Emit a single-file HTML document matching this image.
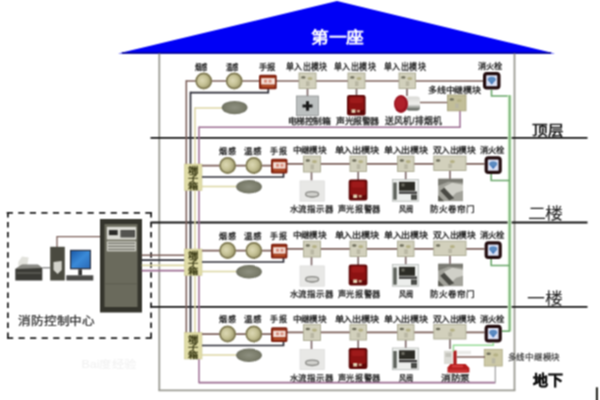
<!DOCTYPE html>
<html lang="zh-CN"><head><meta charset="utf-8"><title>消防报警系统图</title>
<style>html,body{margin:0;padding:0;background:#fff;}body{width:600px;height:400px;overflow:hidden;font-family:"Liberation Sans",sans-serif;}svg{display:block;}</style>
</head><body>
<svg width="600" height="400" viewBox="0 0 600 400">
<defs>
<radialGradient id="gdet" cx="0.4" cy="0.45" r="0.62">
<stop offset="0" stop-color="#dcd8b4"/><stop offset="0.5" stop-color="#c6c296"/><stop offset="1" stop-color="#9a9668"/>
</radialGradient>
<radialGradient id="gov" cx="0.5" cy="0.5" r="0.55">
<stop offset="0" stop-color="#8e9080"/><stop offset="0.7" stop-color="#7a7c6a"/><stop offset="1" stop-color="#66685a"/>
</radialGradient>
<linearGradient id="gmon" x1="0" y1="0" x2="1" y2="1"><stop offset="0" stop-color="#1a5aa8"/><stop offset="0.5" stop-color="#3a8ad8"/><stop offset="1" stop-color="#2a6ab8"/></linearGradient>
<linearGradient id="gfan" x1="0" y1="0" x2="0" y2="1"><stop offset="0" stop-color="#d8d8d4"/><stop offset="0.55" stop-color="#f0f0ee"/><stop offset="1" stop-color="#4a5048"/></linearGradient>
<filter id="soft" filterUnits="userSpaceOnUse" x="0" y="0" width="600" height="400" color-interpolation-filters="sRGB"><feConvolveMatrix order="3" kernelMatrix="1 2 1 2 4 2 1 2 1" divisor="16" edgeMode="duplicate" preserveAlpha="false"/></filter>
</defs>
<g filter="url(#soft)">
<rect width="600" height="400" fill="#ffffff"/>
<polygon points="118,53.6 337,1 555,53.6" fill="#0000f6"/>
<line x1="122" y1="53.1" x2="551" y2="53.1" stroke="#00008c" stroke-width="1.5" />
<text x="311.3" y="43.22" font-family="Liberation Serif, serif" font-size="16.40" font-weight="bold" fill="#ffffff" textLength="52.20" lengthAdjust="spacingAndGlyphs">第一座</text>
<line x1="159.3" y1="53.5" x2="159.3" y2="390.5" stroke="#9c9c94" stroke-width="1.8" />
<line x1="514.5" y1="53.5" x2="514.5" y2="390.5" stroke="#9c9c94" stroke-width="1.8" />
<line x1="158.4" y1="390.4" x2="515.4" y2="390.4" stroke="#9c9c94" stroke-width="1.8" />
<line x1="150.5" y1="137.8" x2="587.5" y2="137.8" stroke="#141414" stroke-width="1.8" />
<line x1="150.5" y1="222.5" x2="587.5" y2="222.5" stroke="#141414" stroke-width="1.8" />
<line x1="150.5" y1="306.8" x2="587.5" y2="306.8" stroke="#141414" stroke-width="1.8" />
<text x="532.4" y="135.01" font-family="Liberation Serif, serif" font-size="13.22" font-weight="bold" fill="#1a1a1a" textLength="30.60" lengthAdjust="spacingAndGlyphs">顶层</text>
<text x="527.5" y="218.67" font-family="Liberation Serif, serif" font-size="15.46" font-weight="normal" fill="#1a1a1a" textLength="35.00" lengthAdjust="spacingAndGlyphs">二楼</text>
<text x="527" y="304.03" font-family="Liberation Serif, serif" font-size="16.17" font-weight="normal" fill="#1a1a1a" textLength="35.50" lengthAdjust="spacingAndGlyphs">一楼</text>
<text x="532.5" y="384.98" font-family="Liberation Sans, sans-serif" font-size="13.69" font-weight="bold" fill="#111" stroke="#111" stroke-width="0.5" textLength="30.50" lengthAdjust="spacingAndGlyphs">地下</text>
<line x1="596.9" y1="387.3" x2="596.9" y2="400.5" stroke="#1a1a14" stroke-width="2.0" />
<line x1="6.7" y1="212.9" x2="152" y2="212.9" stroke="#1e1e1e" stroke-width="1.8" stroke-dasharray="6.2 5.35"/>
<line x1="7.0" y1="338.1" x2="151.9" y2="338.1" stroke="#1e1e1e" stroke-width="1.8" stroke-dasharray="6.2 5.35"/>
<line x1="7.9" y1="212" x2="7.9" y2="339" stroke="#1e1e1e" stroke-width="1.8" stroke-dasharray="5.5 4.55"/>
<line x1="151.1" y1="212" x2="151.1" y2="339" stroke="#1e1e1e" stroke-width="1.8" stroke-dasharray="5.5 4.55"/>
<text x="18" y="324.59" font-family="Liberation Sans, sans-serif" font-size="11.80" font-weight="normal" fill="#2a2a2a" stroke="#2a2a2a" stroke-width="0.25" textLength="77.00" lengthAdjust="spacingAndGlyphs">消防控制中心</text>
<polyline points="57,247 57,236.6 100.5,236.6" fill="none" stroke="#7c605a" stroke-width="1.3"/>
<rect x="100" y="219" width="42.00" height="93.50" rx="0" fill="#34342c" stroke="none" stroke-width="0" />
<rect x="104.5" y="224" width="33.00" height="83.00" rx="0" fill="#6a6a5c" stroke="none" stroke-width="0" />
<rect x="106.8" y="226.8" width="29.50" height="12.80" rx="0" fill="#dcdcd4" stroke="none" stroke-width="0" />
<rect x="108.7" y="229.8" width="9.30" height="5.70" rx="0" fill="#2a2a26" stroke="#e8e8e0" stroke-width="0.6" />
<rect x="120.5" y="230" width="14.50" height="7.50" rx="0" fill="#4a4a46" stroke="none" stroke-width="0" />
<line x1="121" y1="230.5" x2="121" y2="237" stroke="#6a6a64" stroke-width="0.6" />
<line x1="123" y1="230.5" x2="123" y2="237" stroke="#6a6a64" stroke-width="0.6" />
<line x1="125" y1="230.5" x2="125" y2="237" stroke="#6a6a64" stroke-width="0.6" />
<line x1="127" y1="230.5" x2="127" y2="237" stroke="#6a6a64" stroke-width="0.6" />
<line x1="129" y1="230.5" x2="129" y2="237" stroke="#6a6a64" stroke-width="0.6" />
<line x1="131" y1="230.5" x2="131" y2="237" stroke="#6a6a64" stroke-width="0.6" />
<line x1="133" y1="230.5" x2="133" y2="237" stroke="#6a6a64" stroke-width="0.6" />
<rect x="106.8" y="241.2" width="29.50" height="10.10" rx="0" fill="#cfcfc6" stroke="none" stroke-width="0" />
<line x1="108" y1="243.2" x2="135" y2="243.2" stroke="#55554c" stroke-width="1.0" />
<line x1="108" y1="246.2" x2="135" y2="246.2" stroke="#55554c" stroke-width="1.0" />
<line x1="108" y1="249.2" x2="135" y2="249.2" stroke="#55554c" stroke-width="1.0" />
<line x1="104.5" y1="283.8" x2="137.5" y2="283.8" stroke="#5a5a4e" stroke-width="0.8" />
<rect x="50.2" y="246.8" width="14.60" height="33.70" rx="0" fill="#4a4a40" stroke="none" stroke-width="0" />
<path d="M53.5 262 L61.7 261 L61.7 270 L57.6 274 L53.5 270 Z" fill="#d4d4cc"/>
<rect x="70" y="249.8" width="21.00" height="19.50" rx="0" fill="#2a3040" stroke="none" stroke-width="0" />
<rect x="71.2" y="251" width="18.6" height="17" fill="url(#gmon)"/>
<rect x="78.3" y="269.3" width="3.70" height="6.00" rx="0" fill="#333" stroke="none" stroke-width="0" />
<rect x="66.3" y="275.3" width="27.00" height="5.20" rx="0" fill="#4a4a48" stroke="none" stroke-width="0" />
<path d="M18.3 262 L22 256.5 L28.7 257.5 L27 266 L18.3 266 Z" fill="#e2e2dc"/>
<path d="M15.3 269 L22 264.7 L38 264.7 L42.3 268 L42.3 280.5 L15.3 280.5 Z" fill="#3a3a35"/>
<path d="M15.3 269 L22 264.7 L38 264.7 L42.3 268 Z" fill="#8a8a84"/>
<rect x="17" y="272" width="24.00" height="2.00" rx="0" fill="#55554e" stroke="none" stroke-width="0" />
<line x1="42.3" y1="267.8" x2="50.2" y2="267.8" stroke="#777" stroke-width="1.2" />
<line x1="141.7" y1="255.2" x2="186" y2="255.2" stroke="#7c605a" stroke-width="1.6" />
<line x1="141.7" y1="260.1" x2="186" y2="260.1" stroke="#2c2c36" stroke-width="1.6" />
<line x1="141.7" y1="265.4" x2="186" y2="265.4" stroke="#dcd6a4" stroke-width="1.7" />
<line x1="141.7" y1="270.6" x2="186" y2="270.6" stroke="#9c6e92" stroke-width="1.7" />
<line x1="186.3" y1="80.2" x2="186.3" y2="333" stroke="#7c605a" stroke-width="1.6" />
<line x1="190.5" y1="91.7" x2="190.5" y2="333" stroke="#2c2c36" stroke-width="1.7" />
<line x1="195" y1="107.3" x2="195" y2="333" stroke="#dcd6a4" stroke-width="1.5" />
<line x1="199" y1="126.5" x2="199" y2="383.2" stroke="#9c6e92" stroke-width="1.5" />
<line x1="186.3" y1="81" x2="483.5" y2="81" stroke="#7c605a" stroke-width="1.6" />
<polyline points="190.5,92.6 268.3,92.6 268.3,88" fill="none" stroke="#2c2c36" stroke-width="1.7"/>
<line x1="195" y1="108" x2="222" y2="108" stroke="#dcd6a4" stroke-width="1.5" />
<polyline points="199,127.3 460,127.3 460,110" fill="none" stroke="#9c6e92" stroke-width="1.5"/>
<line x1="420" y1="102.5" x2="448" y2="102.5" stroke="#7c605a" stroke-width="1.4" />
<line x1="307.5" y1="88" x2="307.5" y2="96" stroke="#7a6464" stroke-width="1.6" />
<line x1="356.5" y1="88" x2="356.5" y2="96" stroke="#7a6464" stroke-width="1.6" />
<line x1="407" y1="88" x2="407" y2="96" stroke="#7a6464" stroke-width="1.6" />
<circle cx="203.7" cy="81" r="8.4" fill="#aaa680"/>
<circle cx="203.7" cy="81" r="7.5" fill="url(#gdet)" stroke="#7c7650" stroke-width="1.5"/>
<circle cx="234.2" cy="81" r="8.4" fill="#aaa680"/>
<circle cx="234.2" cy="81" r="7.5" fill="url(#gdet)" stroke="#7c7650" stroke-width="1.5"/>
<rect x="259" y="74.7" width="17.70" height="14.50" rx="1.5" fill="#7c2010" stroke="none" stroke-width="0" />
<rect x="260.5" y="76.2" width="14.70" height="11.50" rx="1" fill="#9a3418" stroke="none" stroke-width="0" />
<rect x="261.2" y="78.10000000000001" width="13.70" height="6.40" rx="0" fill="#f6e2da" stroke="none" stroke-width="0" />
<rect x="264" y="79.7" width="3.00" height="3.00" rx="0" fill="#d89080" stroke="none" stroke-width="0" />
<rect x="268.5" y="79.7" width="3.00" height="3.00" rx="0" fill="#d89080" stroke="none" stroke-width="0" />
<rect x="262" y="85.5" width="12.20" height="1.70" rx="0" fill="#b4502a" stroke="none" stroke-width="0" />
<ellipse cx="234.6" cy="107.6" rx="12.9" ry="6.7" fill="url(#gov)"/>
<rect x="299" y="73" width="17.00" height="15.50" rx="0" fill="#d2d0bc" stroke="#a9a890" stroke-width="0.9" />
<ellipse cx="303.3" cy="77.4" rx="2.2" ry="1.2" fill="#6a6a58"/>
<ellipse cx="310.0" cy="78.5" rx="2.5" ry="1.6" fill="#b4b084"/>
<rect x="306.0" y="81.25" width="3.50" height="4.75" rx="0" fill="#b8b6a2" stroke="none" stroke-width="0" />
<rect x="348" y="73" width="17.00" height="15.50" rx="0" fill="#d2d0bc" stroke="#a9a890" stroke-width="0.9" />
<ellipse cx="352.3" cy="77.4" rx="2.2" ry="1.2" fill="#6a6a58"/>
<ellipse cx="359.0" cy="78.5" rx="2.5" ry="1.6" fill="#b4b084"/>
<rect x="355.0" y="81.25" width="3.50" height="4.75" rx="0" fill="#b8b6a2" stroke="none" stroke-width="0" />
<rect x="399" y="73" width="16.50" height="15.50" rx="0" fill="#d2d0bc" stroke="#a9a890" stroke-width="0.9" />
<ellipse cx="403.3" cy="77.4" rx="2.2" ry="1.2" fill="#6a6a58"/>
<ellipse cx="409.75" cy="78.5" rx="2.5" ry="1.6" fill="#b4b084"/>
<rect x="405.75" y="81.25" width="3.50" height="4.75" rx="0" fill="#b8b6a2" stroke="none" stroke-width="0" />
<rect x="484.6" y="73.6" width="14.30" height="14.30" rx="2.2" fill="#dce2f6" stroke="#220c0e" stroke-width="3.2" />
<path d="M487.75 79.75 L495.75 79.75 L491.75 84.75 Z" fill="#4a7ab8"/>
<ellipse cx="491.75" cy="79.25" rx="4" ry="2.5" fill="#5a8ac0"/>
<rect x="447.5" y="95" width="18.50" height="15.80" rx="0" fill="#c2be98" stroke="#a8a47e" stroke-width="0.9" />
<ellipse cx="451.8" cy="99.4" rx="2.2" ry="1.2" fill="#6a6a58"/>
<ellipse cx="459.25" cy="100.5" rx="2.5" ry="1.6" fill="#b4b084"/>
<rect x="455.25" y="103.4" width="3.50" height="4.90" rx="0" fill="#b8b6a2" stroke="none" stroke-width="0" />
<rect x="296.5" y="96" width="22.00" height="19.40" rx="0" fill="#bcc0c0" stroke="#8a8e8e" stroke-width="0.8" />
<rect x="302.5" y="104.5" width="10.00" height="3.00" rx="0" fill="#1a1a1a" stroke="none" stroke-width="0" />
<rect x="306.0" y="101.2" width="3.00" height="9.50" rx="0" fill="#1a1a1a" stroke="none" stroke-width="0" />
<rect x="347" y="95" width="18.60" height="20.40" rx="2.2" fill="#5e0808" stroke="none" stroke-width="0" />
<rect x="348.6" y="96.4" width="15.40" height="14.00" rx="2" fill="#8c1212" stroke="none" stroke-width="0" />
<rect x="350" y="97.5" width="12.60" height="5.50" rx="1.5" fill="#9e1a1a" stroke="none" stroke-width="0" />
<rect x="351.5" y="109.4" width="4.00" height="3.50" rx="0" fill="#e4d4b4" stroke="none" stroke-width="0" />
<rect x="357" y="109.9" width="3.00" height="2.50" rx="0" fill="#c89c80" stroke="none" stroke-width="0" />
<rect x="406" y="96.5" width="14.00" height="14.00" rx="3" fill="url(#gfan)" stroke="none" stroke-width="0" />
<ellipse cx="401" cy="104.0" rx="7" ry="9.0" fill="#9a1420"/>
<ellipse cx="400.5" cy="103.5" rx="5" ry="6.5" fill="#b0202a"/>
<polyline points="491.5,89.5 491.5,96 509.6,96" fill="none" stroke="#6aa66a" stroke-width="1.6"/>
<text x="195" y="70.02" font-family="Liberation Sans, sans-serif" font-size="8.02" font-weight="bold" fill="#262626" textLength="12.50" lengthAdjust="spacingAndGlyphs">烟感</text>
<text x="225.5" y="70.02" font-family="Liberation Sans, sans-serif" font-size="8.02" font-weight="bold" fill="#262626" textLength="12.50" lengthAdjust="spacingAndGlyphs">温感</text>
<text x="258.8" y="70.02" font-family="Liberation Sans, sans-serif" font-size="8.02" font-weight="bold" fill="#262626" textLength="16.70" lengthAdjust="spacingAndGlyphs">手报</text>
<text x="286" y="69.98" font-family="Liberation Sans, sans-serif" font-size="8.61" font-weight="bold" fill="#262626" textLength="41.50" lengthAdjust="spacingAndGlyphs">单入出模块</text>
<text x="334" y="69.98" font-family="Liberation Sans, sans-serif" font-size="8.61" font-weight="bold" fill="#262626" textLength="42.00" lengthAdjust="spacingAndGlyphs">单入出模块</text>
<text x="384" y="69.98" font-family="Liberation Sans, sans-serif" font-size="8.61" font-weight="bold" fill="#262626" textLength="42.00" lengthAdjust="spacingAndGlyphs">单入出模块</text>
<text x="477.5" y="68.73" font-family="Liberation Sans, sans-serif" font-size="7.91" font-weight="bold" fill="#262626" textLength="25.00" lengthAdjust="spacingAndGlyphs">消火栓</text>
<text x="428" y="92.50" font-family="Liberation Sans, sans-serif" font-size="8.26" font-weight="bold" fill="#262626" textLength="52.50" lengthAdjust="spacingAndGlyphs">多线中继模块</text>
<text x="81.5" y="368.38" font-family="Liberation Sans, sans-serif" font-size="10.27" font-weight="normal" fill="#f0f0f0" textLength="54.20" lengthAdjust="spacingAndGlyphs">Bai度经验</text>
<text x="287.5" y="124.10" font-family="Liberation Sans, sans-serif" font-size="8.38" font-weight="bold" fill="#262626" textLength="42.50" lengthAdjust="spacingAndGlyphs">电梯控制箱</text>
<text x="336" y="124.10" font-family="Liberation Sans, sans-serif" font-size="8.38" font-weight="bold" fill="#262626" textLength="43.00" lengthAdjust="spacingAndGlyphs">声光报警器</text>
<text x="384.5" y="124.08" font-family="Liberation Sans, sans-serif" font-size="8.61" font-weight="bold" fill="#262626" textLength="58.00" lengthAdjust="spacingAndGlyphs">送风机/排烟机</text>
<line x1="509.6" y1="95.2" x2="509.6" y2="331.5" stroke="#d4f0cc" stroke-width="4" />
<line x1="509.6" y1="95.2" x2="509.6" y2="331.5" stroke="#6aa66a" stroke-width="1.5" />
<rect x="184.4" y="164.0" width="17.60" height="26.50" rx="0" fill="#e0dca6" stroke="#ccc896" stroke-width="0.6" />
<text x="188.20000000000002" y="173.00" font-family="Liberation Sans, sans-serif" font-size="8.26" font-weight="bold" fill="#3a3a14" textLength="10.00" lengthAdjust="spacingAndGlyphs">端</text>
<text x="188.20000000000002" y="181.00" font-family="Liberation Sans, sans-serif" font-size="8.26" font-weight="bold" fill="#3a3a14" textLength="10.00" lengthAdjust="spacingAndGlyphs">子</text>
<text x="188.20000000000002" y="189.00" font-family="Liberation Sans, sans-serif" font-size="8.26" font-weight="bold" fill="#3a3a14" textLength="10.00" lengthAdjust="spacingAndGlyphs">箱</text>
<line x1="202" y1="165.6" x2="272" y2="165.6" stroke="#7c605a" stroke-width="1.7" />
<line x1="287" y1="163.9" x2="484.5" y2="163.9" stroke="#7c605a" stroke-width="1.7" />
<polyline points="202,177.0 283.5,177.0 283.5,172.5" fill="none" stroke="#2c2c36" stroke-width="1.7"/>
<line x1="202" y1="186.5" x2="236.5" y2="186.5" stroke="#dcd6a4" stroke-width="1.5" />
<line x1="311.5" y1="170.5" x2="311.5" y2="180.5" stroke="#7a6464" stroke-width="1.6" />
<line x1="358.2" y1="170.5" x2="358.2" y2="180.5" stroke="#7a6464" stroke-width="1.6" />
<line x1="405.7" y1="170.5" x2="405.7" y2="180.5" stroke="#7a6464" stroke-width="1.6" />
<line x1="450" y1="170.5" x2="450" y2="180.5" stroke="#7a6464" stroke-width="1.6" />
<circle cx="227.6" cy="165.5" r="8.4" fill="#aaa680"/>
<circle cx="227.6" cy="165.5" r="7.5" fill="url(#gdet)" stroke="#7c7650" stroke-width="1.5"/>
<circle cx="253.8" cy="165.5" r="8.4" fill="#aaa680"/>
<circle cx="253.8" cy="165.5" r="7.5" fill="url(#gdet)" stroke="#7c7650" stroke-width="1.5"/>
<rect x="271" y="158.8" width="16.40" height="14.60" rx="1.5" fill="#7c2010" stroke="none" stroke-width="0" />
<rect x="272.5" y="160.3" width="13.40" height="11.60" rx="1" fill="#9a3418" stroke="none" stroke-width="0" />
<rect x="273.2" y="162.20000000000002" width="12.40" height="6.40" rx="0" fill="#f6e2da" stroke="none" stroke-width="0" />
<rect x="276" y="163.8" width="3.00" height="3.00" rx="0" fill="#d89080" stroke="none" stroke-width="0" />
<rect x="280.5" y="163.8" width="3.00" height="3.00" rx="0" fill="#d89080" stroke="none" stroke-width="0" />
<rect x="274" y="169.60000000000002" width="10.90" height="1.80" rx="0" fill="#b4502a" stroke="none" stroke-width="0" />
<ellipse cx="249" cy="186.8" rx="12.9" ry="6.7" fill="url(#gov)"/>
<rect x="303.5" y="156.1" width="17.00" height="15.90" rx="0" fill="#d2d0bc" stroke="#a9a890" stroke-width="0.9" />
<ellipse cx="307.8" cy="160.5" rx="2.2" ry="1.2" fill="#6a6a58"/>
<ellipse cx="314.5" cy="161.6" rx="2.5" ry="1.6" fill="#b4b084"/>
<rect x="310.5" y="164.55" width="3.50" height="4.95" rx="0" fill="#b8b6a2" stroke="none" stroke-width="0" />
<rect x="350" y="156.1" width="16.50" height="15.40" rx="0" fill="#d2d0bc" stroke="#a9a890" stroke-width="0.9" />
<ellipse cx="354.3" cy="160.5" rx="2.2" ry="1.2" fill="#6a6a58"/>
<ellipse cx="360.75" cy="161.6" rx="2.5" ry="1.6" fill="#b4b084"/>
<rect x="356.75" y="164.3" width="3.50" height="4.70" rx="0" fill="#b8b6a2" stroke="none" stroke-width="0" />
<rect x="397.5" y="156.1" width="16.50" height="15.40" rx="0" fill="#d2d0bc" stroke="#a9a890" stroke-width="0.9" />
<ellipse cx="401.8" cy="160.5" rx="2.2" ry="1.2" fill="#6a6a58"/>
<ellipse cx="408.25" cy="161.6" rx="2.5" ry="1.6" fill="#b4b084"/>
<rect x="404.25" y="164.3" width="3.50" height="4.70" rx="0" fill="#b8b6a2" stroke="none" stroke-width="0" />
<rect x="433.8" y="156.1" width="32.20" height="14.40" rx="0" fill="#d2d0bc" stroke="#a9a890" stroke-width="0.9" />
<ellipse cx="438.1" cy="160.5" rx="2.2" ry="1.2" fill="#6a6a58"/>
<ellipse cx="452.4" cy="161.6" rx="2.5" ry="1.6" fill="#b4b084"/>
<rect x="448.4" y="163.8" width="3.50" height="4.20" rx="0" fill="#b8b6a2" stroke="none" stroke-width="0" />
<rect x="486.20000000000005" y="157.9" width="14.00" height="14.50" rx="2.2" fill="#dce2f6" stroke="#220c0e" stroke-width="3.2" />
<path d="M489.20000000000005 164.15 L497.20000000000005 164.15 L493.20000000000005 169.15 Z" fill="#4a7ab8"/>
<ellipse cx="493.20000000000005" cy="163.65" rx="4" ry="2.5" fill="#5a8ac0"/>
<rect x="300" y="180.9" width="24.30" height="20.30" rx="0" fill="#e8e8e6" stroke="#d8d8d6" stroke-width="0.6" />
<path d="M305.65 194.2 Q312.15 201.7 318.65 194.2 Z" fill="#b4b4b0"/>
<ellipse cx="312.15" cy="194.2" rx="6.5" ry="2.6" fill="#d0d0cc" stroke="#8a8a86" stroke-width="1.3"/>
<rect x="348.7" y="179.5" width="18.70" height="21.00" rx="2.2" fill="#5e0808" stroke="none" stroke-width="0" />
<rect x="350.3" y="180.9" width="15.50" height="14.60" rx="2" fill="#8c1212" stroke="none" stroke-width="0" />
<rect x="351.7" y="182.0" width="12.70" height="5.50" rx="1.5" fill="#9e1a1a" stroke="none" stroke-width="0" />
<rect x="353.2" y="194.5" width="4.00" height="3.50" rx="0" fill="#e4d4b4" stroke="none" stroke-width="0" />
<rect x="358.7" y="195.0" width="3.00" height="2.50" rx="0" fill="#c89c80" stroke="none" stroke-width="0" />
<rect x="392.5" y="179.5" width="26.00" height="21.70" rx="0" fill="#eceeec" stroke="#b4b8b6" stroke-width="0.8" />
<rect x="393.3" y="182.5" width="3.40" height="17.20" rx="0" fill="#5a5e58" stroke="none" stroke-width="0" />
<rect x="399.0" y="181.8" width="16.00" height="9.00" rx="0" fill="#2c2c26" stroke="none" stroke-width="0" />
<rect x="401.5" y="183.5" width="3.00" height="3.00" rx="0" fill="#6a6a60" stroke="none" stroke-width="0" />
<rect x="399.0" y="191.5" width="18.00" height="2.30" rx="0" fill="#3a3a38" stroke="none" stroke-width="0" />
<rect x="411.0" y="194.5" width="6.00" height="5.30" rx="0" fill="#4a4c48" stroke="none" stroke-width="0" />
<text x="219" y="153.65" font-family="Liberation Sans, sans-serif" font-size="7.55" font-weight="bold" fill="#262626" textLength="17.00" lengthAdjust="spacingAndGlyphs">烟感</text>
<text x="244" y="153.65" font-family="Liberation Sans, sans-serif" font-size="7.55" font-weight="bold" fill="#262626" textLength="18.00" lengthAdjust="spacingAndGlyphs">温感</text>
<text x="270" y="153.65" font-family="Liberation Sans, sans-serif" font-size="7.55" font-weight="bold" fill="#262626" textLength="17.00" lengthAdjust="spacingAndGlyphs">手报</text>
<text x="292.5" y="153.00" font-family="Liberation Sans, sans-serif" font-size="8.26" font-weight="bold" fill="#262626" textLength="33.50" lengthAdjust="spacingAndGlyphs">中继模块</text>
<text x="334.5" y="153.00" font-family="Liberation Sans, sans-serif" font-size="8.26" font-weight="bold" fill="#262626" textLength="44.50" lengthAdjust="spacingAndGlyphs">单入出模块</text>
<text x="384" y="153.00" font-family="Liberation Sans, sans-serif" font-size="8.26" font-weight="bold" fill="#262626" textLength="43.50" lengthAdjust="spacingAndGlyphs">单入出模块</text>
<text x="432.5" y="153.00" font-family="Liberation Sans, sans-serif" font-size="8.26" font-weight="bold" fill="#262626" textLength="42.50" lengthAdjust="spacingAndGlyphs">双入出模块</text>
<text x="479.5" y="153.00" font-family="Liberation Sans, sans-serif" font-size="8.26" font-weight="bold" fill="#262626" textLength="24.20" lengthAdjust="spacingAndGlyphs">消火栓</text>
<text x="289.5" y="212.49" font-family="Liberation Sans, sans-serif" font-size="8.50" font-weight="bold" fill="#262626" textLength="44.50" lengthAdjust="spacingAndGlyphs">水流指示器</text>
<text x="337.5" y="212.49" font-family="Liberation Sans, sans-serif" font-size="8.50" font-weight="bold" fill="#262626" textLength="43.50" lengthAdjust="spacingAndGlyphs">声光报警器</text>
<text x="398.8" y="212.49" font-family="Liberation Sans, sans-serif" font-size="8.50" font-weight="bold" fill="#262626" textLength="15.00" lengthAdjust="spacingAndGlyphs">风阀</text>
<rect x="438.2" y="178.8" width="24.80" height="22.40" rx="0" fill="#a2a29a" stroke="none" stroke-width="0" />
<path d="M438.2 178.8 L463 178.8 L463 182.8 L448.2 181.8 L438.2 185.8 Z" fill="#7a7a72"/>
<path d="M444.2 186.8 L452.2 182.8 L463 184.8 L463 190.8 L456.2 192.8 L450.2 198.8 Z" fill="#d0d0c8"/>
<path d="M440.2 190.8 L444.2 187.8 L454.2 198.2 L449.2 200.2 Z" fill="#4a4a44"/>
<path d="M438.2 195.2 L444.2 201.2 L438.2 201.2 Z" fill="#5a5a52"/>
<text x="430" y="212.49" font-family="Liberation Sans, sans-serif" font-size="8.50" font-weight="bold" fill="#262626" textLength="45.00" lengthAdjust="spacingAndGlyphs">防火卷帘门</text>
<polyline points="491.2,174.0 491.2,180.5 509.6,180.5" fill="none" stroke="#6aa66a" stroke-width="1.6"/>
<rect x="184.4" y="249.0" width="17.60" height="26.50" rx="0" fill="#e0dca6" stroke="#ccc896" stroke-width="0.6" />
<text x="188.20000000000002" y="258.00" font-family="Liberation Sans, sans-serif" font-size="8.26" font-weight="bold" fill="#3a3a14" textLength="10.00" lengthAdjust="spacingAndGlyphs">端</text>
<text x="188.20000000000002" y="266.00" font-family="Liberation Sans, sans-serif" font-size="8.26" font-weight="bold" fill="#3a3a14" textLength="10.00" lengthAdjust="spacingAndGlyphs">子</text>
<text x="188.20000000000002" y="274.00" font-family="Liberation Sans, sans-serif" font-size="8.26" font-weight="bold" fill="#3a3a14" textLength="10.00" lengthAdjust="spacingAndGlyphs">箱</text>
<line x1="202" y1="250.6" x2="272" y2="250.6" stroke="#7c605a" stroke-width="1.7" />
<line x1="287" y1="248.9" x2="484.5" y2="248.9" stroke="#7c605a" stroke-width="1.7" />
<polyline points="202,262.0 283.5,262.0 283.5,257.5" fill="none" stroke="#2c2c36" stroke-width="1.7"/>
<line x1="202" y1="271.5" x2="236.5" y2="271.5" stroke="#dcd6a4" stroke-width="1.5" />
<line x1="311.5" y1="255.5" x2="311.5" y2="265.5" stroke="#7a6464" stroke-width="1.6" />
<line x1="358.2" y1="255.5" x2="358.2" y2="265.5" stroke="#7a6464" stroke-width="1.6" />
<line x1="405.7" y1="255.5" x2="405.7" y2="265.5" stroke="#7a6464" stroke-width="1.6" />
<line x1="450" y1="255.5" x2="450" y2="265.5" stroke="#7a6464" stroke-width="1.6" />
<circle cx="227.6" cy="250.5" r="8.4" fill="#aaa680"/>
<circle cx="227.6" cy="250.5" r="7.5" fill="url(#gdet)" stroke="#7c7650" stroke-width="1.5"/>
<circle cx="253.8" cy="250.5" r="8.4" fill="#aaa680"/>
<circle cx="253.8" cy="250.5" r="7.5" fill="url(#gdet)" stroke="#7c7650" stroke-width="1.5"/>
<rect x="271" y="243.8" width="16.40" height="14.60" rx="1.5" fill="#7c2010" stroke="none" stroke-width="0" />
<rect x="272.5" y="245.3" width="13.40" height="11.60" rx="1" fill="#9a3418" stroke="none" stroke-width="0" />
<rect x="273.2" y="247.20000000000002" width="12.40" height="6.40" rx="0" fill="#f6e2da" stroke="none" stroke-width="0" />
<rect x="276" y="248.8" width="3.00" height="3.00" rx="0" fill="#d89080" stroke="none" stroke-width="0" />
<rect x="280.5" y="248.8" width="3.00" height="3.00" rx="0" fill="#d89080" stroke="none" stroke-width="0" />
<rect x="274" y="254.60000000000002" width="10.90" height="1.80" rx="0" fill="#b4502a" stroke="none" stroke-width="0" />
<ellipse cx="249" cy="271.8" rx="12.9" ry="6.7" fill="url(#gov)"/>
<rect x="303.5" y="241.1" width="17.00" height="15.90" rx="0" fill="#d2d0bc" stroke="#a9a890" stroke-width="0.9" />
<ellipse cx="307.8" cy="245.5" rx="2.2" ry="1.2" fill="#6a6a58"/>
<ellipse cx="314.5" cy="246.6" rx="2.5" ry="1.6" fill="#b4b084"/>
<rect x="310.5" y="249.55" width="3.50" height="4.95" rx="0" fill="#b8b6a2" stroke="none" stroke-width="0" />
<rect x="350" y="241.1" width="16.50" height="15.40" rx="0" fill="#d2d0bc" stroke="#a9a890" stroke-width="0.9" />
<ellipse cx="354.3" cy="245.5" rx="2.2" ry="1.2" fill="#6a6a58"/>
<ellipse cx="360.75" cy="246.6" rx="2.5" ry="1.6" fill="#b4b084"/>
<rect x="356.75" y="249.3" width="3.50" height="4.70" rx="0" fill="#b8b6a2" stroke="none" stroke-width="0" />
<rect x="397.5" y="241.1" width="16.50" height="15.40" rx="0" fill="#d2d0bc" stroke="#a9a890" stroke-width="0.9" />
<ellipse cx="401.8" cy="245.5" rx="2.2" ry="1.2" fill="#6a6a58"/>
<ellipse cx="408.25" cy="246.6" rx="2.5" ry="1.6" fill="#b4b084"/>
<rect x="404.25" y="249.3" width="3.50" height="4.70" rx="0" fill="#b8b6a2" stroke="none" stroke-width="0" />
<rect x="433.8" y="241.1" width="32.20" height="14.40" rx="0" fill="#d2d0bc" stroke="#a9a890" stroke-width="0.9" />
<ellipse cx="438.1" cy="245.5" rx="2.2" ry="1.2" fill="#6a6a58"/>
<ellipse cx="452.4" cy="246.6" rx="2.5" ry="1.6" fill="#b4b084"/>
<rect x="448.4" y="248.8" width="3.50" height="4.20" rx="0" fill="#b8b6a2" stroke="none" stroke-width="0" />
<rect x="486.20000000000005" y="242.9" width="14.00" height="14.50" rx="2.2" fill="#dce2f6" stroke="#220c0e" stroke-width="3.2" />
<path d="M489.20000000000005 249.15 L497.20000000000005 249.15 L493.20000000000005 254.15 Z" fill="#4a7ab8"/>
<ellipse cx="493.20000000000005" cy="248.65" rx="4" ry="2.5" fill="#5a8ac0"/>
<rect x="300" y="265.9" width="24.30" height="20.30" rx="0" fill="#e8e8e6" stroke="#d8d8d6" stroke-width="0.6" />
<path d="M305.65 279.2 Q312.15 286.7 318.65 279.2 Z" fill="#b4b4b0"/>
<ellipse cx="312.15" cy="279.2" rx="6.5" ry="2.6" fill="#d0d0cc" stroke="#8a8a86" stroke-width="1.3"/>
<rect x="348.7" y="264.5" width="18.70" height="21.00" rx="2.2" fill="#5e0808" stroke="none" stroke-width="0" />
<rect x="350.3" y="265.9" width="15.50" height="14.60" rx="2" fill="#8c1212" stroke="none" stroke-width="0" />
<rect x="351.7" y="267.0" width="12.70" height="5.50" rx="1.5" fill="#9e1a1a" stroke="none" stroke-width="0" />
<rect x="353.2" y="279.5" width="4.00" height="3.50" rx="0" fill="#e4d4b4" stroke="none" stroke-width="0" />
<rect x="358.7" y="280.0" width="3.00" height="2.50" rx="0" fill="#c89c80" stroke="none" stroke-width="0" />
<rect x="392.5" y="264.5" width="26.00" height="21.70" rx="0" fill="#eceeec" stroke="#b4b8b6" stroke-width="0.8" />
<rect x="393.3" y="267.5" width="3.40" height="17.20" rx="0" fill="#5a5e58" stroke="none" stroke-width="0" />
<rect x="399.0" y="266.8" width="16.00" height="9.00" rx="0" fill="#2c2c26" stroke="none" stroke-width="0" />
<rect x="401.5" y="268.5" width="3.00" height="3.00" rx="0" fill="#6a6a60" stroke="none" stroke-width="0" />
<rect x="399.0" y="276.5" width="18.00" height="2.30" rx="0" fill="#3a3a38" stroke="none" stroke-width="0" />
<rect x="411.0" y="279.5" width="6.00" height="5.30" rx="0" fill="#4a4c48" stroke="none" stroke-width="0" />
<text x="219" y="238.65" font-family="Liberation Sans, sans-serif" font-size="7.55" font-weight="bold" fill="#262626" textLength="17.00" lengthAdjust="spacingAndGlyphs">烟感</text>
<text x="244" y="238.65" font-family="Liberation Sans, sans-serif" font-size="7.55" font-weight="bold" fill="#262626" textLength="18.00" lengthAdjust="spacingAndGlyphs">温感</text>
<text x="270" y="238.65" font-family="Liberation Sans, sans-serif" font-size="7.55" font-weight="bold" fill="#262626" textLength="17.00" lengthAdjust="spacingAndGlyphs">手报</text>
<text x="292.5" y="238.00" font-family="Liberation Sans, sans-serif" font-size="8.26" font-weight="bold" fill="#262626" textLength="33.50" lengthAdjust="spacingAndGlyphs">中继模块</text>
<text x="334.5" y="238.00" font-family="Liberation Sans, sans-serif" font-size="8.26" font-weight="bold" fill="#262626" textLength="44.50" lengthAdjust="spacingAndGlyphs">单入出模块</text>
<text x="384" y="238.00" font-family="Liberation Sans, sans-serif" font-size="8.26" font-weight="bold" fill="#262626" textLength="43.50" lengthAdjust="spacingAndGlyphs">单入出模块</text>
<text x="432.5" y="238.00" font-family="Liberation Sans, sans-serif" font-size="8.26" font-weight="bold" fill="#262626" textLength="42.50" lengthAdjust="spacingAndGlyphs">双入出模块</text>
<text x="479.5" y="238.00" font-family="Liberation Sans, sans-serif" font-size="8.26" font-weight="bold" fill="#262626" textLength="24.20" lengthAdjust="spacingAndGlyphs">消火栓</text>
<text x="289.5" y="297.49" font-family="Liberation Sans, sans-serif" font-size="8.50" font-weight="bold" fill="#262626" textLength="44.50" lengthAdjust="spacingAndGlyphs">水流指示器</text>
<text x="337.5" y="297.49" font-family="Liberation Sans, sans-serif" font-size="8.50" font-weight="bold" fill="#262626" textLength="43.50" lengthAdjust="spacingAndGlyphs">声光报警器</text>
<text x="398.8" y="297.49" font-family="Liberation Sans, sans-serif" font-size="8.50" font-weight="bold" fill="#262626" textLength="15.00" lengthAdjust="spacingAndGlyphs">风阀</text>
<rect x="438.2" y="263.8" width="24.80" height="22.40" rx="0" fill="#a2a29a" stroke="none" stroke-width="0" />
<path d="M438.2 263.8 L463 263.8 L463 267.8 L448.2 266.8 L438.2 270.8 Z" fill="#7a7a72"/>
<path d="M444.2 271.8 L452.2 267.8 L463 269.8 L463 275.8 L456.2 277.8 L450.2 283.8 Z" fill="#d0d0c8"/>
<path d="M440.2 275.8 L444.2 272.8 L454.2 283.2 L449.2 285.2 Z" fill="#4a4a44"/>
<path d="M438.2 280.2 L444.2 286.2 L438.2 286.2 Z" fill="#5a5a52"/>
<text x="430" y="297.49" font-family="Liberation Sans, sans-serif" font-size="8.50" font-weight="bold" fill="#262626" textLength="45.00" lengthAdjust="spacingAndGlyphs">防火卷帘门</text>
<polyline points="491.2,259.0 491.2,265.5 509.6,265.5" fill="none" stroke="#6aa66a" stroke-width="1.6"/>
<rect x="184.4" y="332.5" width="17.60" height="26.50" rx="0" fill="#e0dca6" stroke="#ccc896" stroke-width="0.6" />
<text x="188.20000000000002" y="341.50" font-family="Liberation Sans, sans-serif" font-size="8.26" font-weight="bold" fill="#3a3a14" textLength="10.00" lengthAdjust="spacingAndGlyphs">端</text>
<text x="188.20000000000002" y="349.50" font-family="Liberation Sans, sans-serif" font-size="8.26" font-weight="bold" fill="#3a3a14" textLength="10.00" lengthAdjust="spacingAndGlyphs">子</text>
<text x="188.20000000000002" y="357.50" font-family="Liberation Sans, sans-serif" font-size="8.26" font-weight="bold" fill="#3a3a14" textLength="10.00" lengthAdjust="spacingAndGlyphs">箱</text>
<line x1="202" y1="334.1" x2="272" y2="334.1" stroke="#7c605a" stroke-width="1.7" />
<line x1="287" y1="332.4" x2="484.5" y2="332.4" stroke="#7c605a" stroke-width="1.7" />
<polyline points="202,345.5 283.5,345.5 283.5,341" fill="none" stroke="#2c2c36" stroke-width="1.7"/>
<line x1="202" y1="355" x2="236.5" y2="355" stroke="#dcd6a4" stroke-width="1.5" />
<line x1="311.5" y1="339" x2="311.5" y2="349" stroke="#7a6464" stroke-width="1.6" />
<line x1="358.2" y1="339" x2="358.2" y2="349" stroke="#7a6464" stroke-width="1.6" />
<line x1="405.7" y1="339" x2="405.7" y2="349" stroke="#7a6464" stroke-width="1.6" />
<line x1="450" y1="339" x2="450" y2="349" stroke="#7a6464" stroke-width="1.6" />
<circle cx="227.6" cy="334" r="8.4" fill="#aaa680"/>
<circle cx="227.6" cy="334" r="7.5" fill="url(#gdet)" stroke="#7c7650" stroke-width="1.5"/>
<circle cx="253.8" cy="334" r="8.4" fill="#aaa680"/>
<circle cx="253.8" cy="334" r="7.5" fill="url(#gdet)" stroke="#7c7650" stroke-width="1.5"/>
<rect x="271" y="327.3" width="16.40" height="14.60" rx="1.5" fill="#7c2010" stroke="none" stroke-width="0" />
<rect x="272.5" y="328.8" width="13.40" height="11.60" rx="1" fill="#9a3418" stroke="none" stroke-width="0" />
<rect x="273.2" y="330.7" width="12.40" height="6.40" rx="0" fill="#f6e2da" stroke="none" stroke-width="0" />
<rect x="276" y="332.3" width="3.00" height="3.00" rx="0" fill="#d89080" stroke="none" stroke-width="0" />
<rect x="280.5" y="332.3" width="3.00" height="3.00" rx="0" fill="#d89080" stroke="none" stroke-width="0" />
<rect x="274" y="338.1" width="10.90" height="1.80" rx="0" fill="#b4502a" stroke="none" stroke-width="0" />
<ellipse cx="249" cy="355.3" rx="12.9" ry="6.7" fill="url(#gov)"/>
<rect x="303.5" y="324.6" width="17.00" height="15.90" rx="0" fill="#d2d0bc" stroke="#a9a890" stroke-width="0.9" />
<ellipse cx="307.8" cy="329.0" rx="2.2" ry="1.2" fill="#6a6a58"/>
<ellipse cx="314.5" cy="330.1" rx="2.5" ry="1.6" fill="#b4b084"/>
<rect x="310.5" y="333.05" width="3.50" height="4.95" rx="0" fill="#b8b6a2" stroke="none" stroke-width="0" />
<rect x="350" y="324.6" width="16.50" height="15.40" rx="0" fill="#d2d0bc" stroke="#a9a890" stroke-width="0.9" />
<ellipse cx="354.3" cy="329.0" rx="2.2" ry="1.2" fill="#6a6a58"/>
<ellipse cx="360.75" cy="330.1" rx="2.5" ry="1.6" fill="#b4b084"/>
<rect x="356.75" y="332.8" width="3.50" height="4.70" rx="0" fill="#b8b6a2" stroke="none" stroke-width="0" />
<rect x="397.5" y="324.6" width="16.50" height="15.40" rx="0" fill="#d2d0bc" stroke="#a9a890" stroke-width="0.9" />
<ellipse cx="401.8" cy="329.0" rx="2.2" ry="1.2" fill="#6a6a58"/>
<ellipse cx="408.25" cy="330.1" rx="2.5" ry="1.6" fill="#b4b084"/>
<rect x="404.25" y="332.8" width="3.50" height="4.70" rx="0" fill="#b8b6a2" stroke="none" stroke-width="0" />
<rect x="433.8" y="324.6" width="32.20" height="14.40" rx="0" fill="#d2d0bc" stroke="#a9a890" stroke-width="0.9" />
<ellipse cx="438.1" cy="329.0" rx="2.2" ry="1.2" fill="#6a6a58"/>
<ellipse cx="452.4" cy="330.1" rx="2.5" ry="1.6" fill="#b4b084"/>
<rect x="448.4" y="332.3" width="3.50" height="4.20" rx="0" fill="#b8b6a2" stroke="none" stroke-width="0" />
<rect x="486.20000000000005" y="326.40000000000003" width="14.00" height="14.50" rx="2.2" fill="#dce2f6" stroke="#220c0e" stroke-width="3.2" />
<path d="M489.20000000000005 332.65 L497.20000000000005 332.65 L493.20000000000005 337.65 Z" fill="#4a7ab8"/>
<ellipse cx="493.20000000000005" cy="332.15" rx="4" ry="2.5" fill="#5a8ac0"/>
<rect x="300" y="349.4" width="24.30" height="20.30" rx="0" fill="#e8e8e6" stroke="#d8d8d6" stroke-width="0.6" />
<path d="M305.65 362.7 Q312.15 370.2 318.65 362.7 Z" fill="#b4b4b0"/>
<ellipse cx="312.15" cy="362.7" rx="6.5" ry="2.6" fill="#d0d0cc" stroke="#8a8a86" stroke-width="1.3"/>
<rect x="348.7" y="348" width="18.70" height="21.00" rx="2.2" fill="#5e0808" stroke="none" stroke-width="0" />
<rect x="350.3" y="349.4" width="15.50" height="14.60" rx="2" fill="#8c1212" stroke="none" stroke-width="0" />
<rect x="351.7" y="350.5" width="12.70" height="5.50" rx="1.5" fill="#9e1a1a" stroke="none" stroke-width="0" />
<rect x="353.2" y="363" width="4.00" height="3.50" rx="0" fill="#e4d4b4" stroke="none" stroke-width="0" />
<rect x="358.7" y="363.5" width="3.00" height="2.50" rx="0" fill="#c89c80" stroke="none" stroke-width="0" />
<rect x="392.5" y="348" width="26.00" height="21.70" rx="0" fill="#eceeec" stroke="#b4b8b6" stroke-width="0.8" />
<rect x="393.3" y="351" width="3.40" height="17.20" rx="0" fill="#5a5e58" stroke="none" stroke-width="0" />
<rect x="399.0" y="350.3" width="16.00" height="9.00" rx="0" fill="#2c2c26" stroke="none" stroke-width="0" />
<rect x="401.5" y="352" width="3.00" height="3.00" rx="0" fill="#6a6a60" stroke="none" stroke-width="0" />
<rect x="399.0" y="360" width="18.00" height="2.30" rx="0" fill="#3a3a38" stroke="none" stroke-width="0" />
<rect x="411.0" y="363" width="6.00" height="5.30" rx="0" fill="#4a4c48" stroke="none" stroke-width="0" />
<text x="219" y="322.15" font-family="Liberation Sans, sans-serif" font-size="7.55" font-weight="bold" fill="#262626" textLength="17.00" lengthAdjust="spacingAndGlyphs">烟感</text>
<text x="244" y="322.15" font-family="Liberation Sans, sans-serif" font-size="7.55" font-weight="bold" fill="#262626" textLength="18.00" lengthAdjust="spacingAndGlyphs">温感</text>
<text x="270" y="322.15" font-family="Liberation Sans, sans-serif" font-size="7.55" font-weight="bold" fill="#262626" textLength="17.00" lengthAdjust="spacingAndGlyphs">手报</text>
<text x="292.5" y="321.50" font-family="Liberation Sans, sans-serif" font-size="8.26" font-weight="bold" fill="#262626" textLength="33.50" lengthAdjust="spacingAndGlyphs">中继模块</text>
<text x="334.5" y="321.50" font-family="Liberation Sans, sans-serif" font-size="8.26" font-weight="bold" fill="#262626" textLength="44.50" lengthAdjust="spacingAndGlyphs">单入出模块</text>
<text x="384" y="321.50" font-family="Liberation Sans, sans-serif" font-size="8.26" font-weight="bold" fill="#262626" textLength="43.50" lengthAdjust="spacingAndGlyphs">单入出模块</text>
<text x="432.5" y="321.50" font-family="Liberation Sans, sans-serif" font-size="8.26" font-weight="bold" fill="#262626" textLength="42.50" lengthAdjust="spacingAndGlyphs">双入出模块</text>
<text x="479.5" y="321.50" font-family="Liberation Sans, sans-serif" font-size="8.26" font-weight="bold" fill="#262626" textLength="24.20" lengthAdjust="spacingAndGlyphs">消火栓</text>
<text x="289.5" y="380.99" font-family="Liberation Sans, sans-serif" font-size="8.50" font-weight="bold" fill="#262626" textLength="44.50" lengthAdjust="spacingAndGlyphs">水流指示器</text>
<text x="337.5" y="380.99" font-family="Liberation Sans, sans-serif" font-size="8.50" font-weight="bold" fill="#262626" textLength="43.50" lengthAdjust="spacingAndGlyphs">声光报警器</text>
<text x="398.8" y="380.99" font-family="Liberation Sans, sans-serif" font-size="8.50" font-weight="bold" fill="#262626" textLength="15.00" lengthAdjust="spacingAndGlyphs">风阀</text>
<rect x="444" y="350.8" width="8.50" height="13.20" rx="0" fill="#dcdcd6" stroke="none" stroke-width="0" />
<rect x="445.5" y="353" width="5.50" height="4.00" rx="0" fill="#c4c4bc" stroke="none" stroke-width="0" />
<rect x="457.5" y="350.8" width="13.50" height="3.40" rx="0" fill="#ebebe8" stroke="none" stroke-width="0" />
<rect x="453.4" y="350.5" width="3.20" height="13.50" rx="0" fill="#a81616" stroke="none" stroke-width="0" />
<path d="M447.5 372.6 L447.5 367.5 L450.5 364 L465.5 364 L469.4 368 L469.4 372.6 Z" fill="#b41c1c"/>
<rect x="452" y="365" width="11.00" height="2.50" rx="0" fill="#d23a3a" stroke="none" stroke-width="0" />
<rect x="449" y="369.5" width="18.50" height="3.10" rx="0" fill="#c83232" stroke="none" stroke-width="0" />
<text x="441" y="380.82" font-family="Liberation Sans, sans-serif" font-size="8.02" font-weight="bold" fill="#262626" textLength="29.00" lengthAdjust="spacingAndGlyphs">消防泵</text>
<rect x="484.3" y="349.4" width="17.90" height="16.60" rx="0" fill="#cdc9a6" stroke="#b0ac88" stroke-width="0.9" />
<ellipse cx="488.6" cy="353.79999999999995" rx="2.2" ry="1.2" fill="#6a6a58"/>
<ellipse cx="495.75" cy="354.9" rx="2.5" ry="1.6" fill="#b4b084"/>
<rect x="491.75" y="358.2" width="3.50" height="5.30" rx="0" fill="#b8b6a2" stroke="none" stroke-width="0" />
<text x="507.5" y="360.13" font-family="Liberation Sans, sans-serif" font-size="7.79" font-weight="normal" fill="#2e2e2e" stroke="#2e2e2e" stroke-width="0.2" textLength="52.50" lengthAdjust="spacingAndGlyphs">多线中继模块</text>
<line x1="456.8" y1="357" x2="485" y2="357" stroke="#7c605a" stroke-width="1.5" />
<line x1="509.6" y1="331.2" x2="502" y2="331.2" stroke="#6aa66a" stroke-width="1.6" />
<polyline points="453.4,351.5 453.4,345.3 493.3,345.3 493.3,342.5" fill="none" stroke="#98dc98" stroke-width="1.6"/>
<line x1="199" y1="382.6" x2="495.5" y2="382.6" stroke="#9c6e92" stroke-width="1.6" />
<line x1="495.3" y1="366" x2="495.3" y2="382.6" stroke="#a0a0a0" stroke-width="1.2" />
</g>
</svg>
</body></html>
